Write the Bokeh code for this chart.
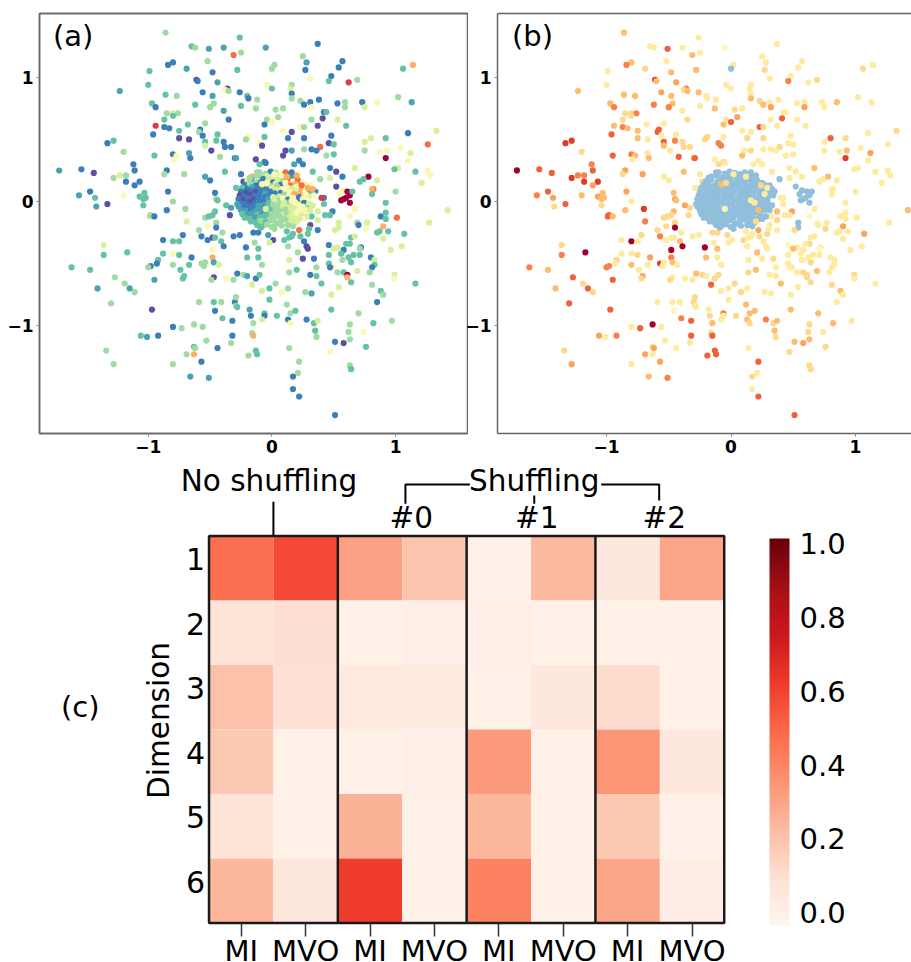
from math import pi
from bokeh.embed import file_html
from bokeh.resources import INLINE
from bokeh.layouts import column, row
from bokeh.plotting import figure
from bokeh.models import (ColumnDataSource, LinearColorMapper, ColorBar, FixedTicker, LinearAxis,
                          Label, Range1d, PrintfTickFormatter)
from bokeh.palettes import Reds256

FONT = "DejaVu Sans"

# ---- scatter data: the same points in (a) and (b), each with a colour class per panel
outer_x = [-.86,-.26,.37,-.65,-.62,-.51,-.39,-.05,-.31,-.25,
 .25,.28,.57,-.52,-.80,-.84,1.14,.54,1.06,.02,
 0,-.69,-.28,.27,-.99,-.48,.48,.31,.69,.46,
 -.61,-.60,-.44,.62,-1.0,-.04,.16,-.36,-.38,0,
 .15,-1.23,-.56,-.35,-.26,.16,-.86,-.77,-.48,-.20,
 -.19,-.12,.16,1.02,.23,.59,.38,.31,.26,.53,
 .73,.85,1.13,-.97,-.94,-.62,-.47,-.50,-.25,.59,
 .32,.75,-.13,.09,.03,-.39,-.85,-.80,-.76,-.80,
 .42,.44,.41,.05,-.04,-.06,0,.32,.53,-.35,
 -.87,-.68,-.54,-.94,.37,.60,.23,.26,-.87,-.83,
 -.58,-.75,-.59,.09,1.33,.16,-.96,-.44,-.56,.48,
 1.10,-.19,-.06,-.21,.13,.26,.92,.80,-.75,-.67,
 -.45,-1.28,-1.33,-.54,-.39,-.10,.46,.50,.75,1.26,
 -.54,-.38,-.33,-.08,.39,1.04,.93,.87,.75,1.12,
 -.49,-1.20,.11,.16,.26,.32,.36,-.80,-.67,.09,
 .50,-.77,-.95,-.42,-.79,-.66,-.30,-.29,-.13,.44,
 .92,1.10,-1.12,-.06,-.05,.18,.22,.25,-.10,.47,
 .67,1.02,.99,-1.72,-1.54,-1.44,-1.11,-.85,1.16,1.26,
 .33,.52,.78,1.28,-1.23,-1.18,-1.28,-.87,-.71,-.38,
 -.54,-.50,-1.18,-1.07,-1.11,.57,.85,.71,.74,.82,
 .81,1.21,.39,.47,.52,.57,.55,.61,.63,.58,
 .60,.56,.63,.65,.81,1.0,.92,1.42,-1.47,-1.56,
 -1.43,-1.20,-1.03,-.84,-.46,-1.02,-1.07,-1.04,-1.33,-1.42,
 -1.04,-.80,-.45,-.44,-.37,-.33,-.85,-.70,-.46,-.34,
 -.99,-.98,-.95,-.54,-.51,-.48,-.45,-.69,-.52,-.45,
 -.59,-.40,-.72,-.57,-.52,-.48,-.46,-.88,-.80,-.75,
 -.31,-.26,-.41,-.39,-1.36,-.21,-.11,-.14,-.48,-1.17,
 -.88,-1.36,-.80,-.75,-.65,-.48,-.92,-.93,-.98,-1.0,
 -1.62,-1.47,-.80,-.67,-.74,-.57,-.55,-.54,-.47,-.43,
 -.20,-.11,-.08,-.47,-.95,-.71,-.72,-.49,-.37,-.31,
 -.28,-.23,-.20,-.13,-.10,-.16,-1.27,-1.19,-1.15,-1.41,
 -1.11,-1.30,-.59,-.47,-.41,-.30,-.29,-.29,-.28,-.46,
 -.97,-.18,-.17,-.06,-.06,-.08,.04,-.40,-.32,-.15,
 .13,.15,.15,.19,.12,.28,.34,.37,.48,.70,
 .82,.97,.63,.74,.62,.63,.58,.51,.35,.36,
 -.80,-.73,-.63,-.56,-.16,-.15,-.32,-1.06,-1.01,-.92,
 -.53,-.33,-.44,-.63,-.62,-1.34,.76,-.13,-.12,-.19,
 .14,.47,-.69,-.63,-.57,-1.28,-.80,.22,.63,.64,
 .21,.17,-.66,-.51,.17,.22,.51,.67,.63,1.01,
 .49,.88,.92,.92,.77,.69,.70,1.27,.54,.54,
 .76,.90,.51,.85,.87,.94,1.07,.90,.64,.67,
 1.05,.96,.63,.60,.72,.71,.46,.58,.53,.50,
 .66,.56,.46,.57,.62,.64,.71,.80,.83,.83,
 .81,.46,.49,.47,.53,.58,.61,.61,.64,.69,
 .79,.99,.99,.81,.54,.40,1.16,.88,.90,.85,
 .48,.32,.27,.08,.13,-.02,.03,-.08,-.02,.14,
 .20,.36,.31,.36,.14,.25,.34,.21,.13,.28,
 .29,.26,.37,.29,.31,.22,.37,.32,.43,.47,
 .37,.42,.42,.35,.40,.17,.23,.30,.10,.14,
 -.15,-.11,-.03,.01,-.02,.12,.16,-.29,-.23,-.25]
outer_y = [1.36,1.32,1.27,1.25,1.24,1.23,1.24,1.24,1.18,1.20,
 1.17,1.12,1.13,1.13,1.12,1.10,1.10,1.08,1.07,1.10,
 1.07,1.07,1.06,1.06,1.05,1.04,1.01,.99,.98,.97,
 .98,.97,.96,.96,.94,.94,.94,.91,.90,.91,
 .91,.89,.88,.89,.88,.87,.86,.85,.85,.85,
 .83,.82,.83,.84,.81,.80,.82,.80,.78,.79,
 .80,.80,.80,.79,.76,.78,.79,.76,.77,.76,
 .76,.76,.75,.75,.74,.73,.71,.71,.71,.69,
 .72,.72,.67,.68,.66,.62,.64,.66,.66,.66,
 .66,.62,.63,.61,.61,.61,.60,.60,.60,.59,
 .58,.57,.56,.57,.57,.56,.54,.54,.53,.53,
 .55,.52,.52,.50,.51,.51,.51,.51,.51,.50,
 .49,.49,.47,.48,.48,.47,.47,.46,.48,.46,
 .45,.44,.44,.45,.44,.43,.41,.40,.41,.39,
 .41,.40,.41,.41,.42,.42,.41,.38,.39,.37,
 .38,.37,.37,.36,.34,.35,.35,.35,.34,.37,
 .35,.33,.30,.32,.31,.30,.33,.30,.30,.27,
 .27,.27,.26,.25,.26,.23,.25,.25,.24,.25,
 .24,.24,.20,.21,.21,.21,.19,.22,.22,.24,
 .20,.17,.16,.16,.13,.20,.17,.16,.18,.10,
 .10,.15,.18,.19,.12,.09,.06,.08,.05,.02,
 .03,.01,-.01,.08,.06,.08,-.01,-.07,.08,.05,
 .03,.05,.07,.08,.07,.03,.04,.02,-.02,-.04,
 -.03,0,.02,.01,-.03,-.05,-.07,-.06,-.08,-.11,
 -.12,-.11,-.12,-.13,-.12,-.11,-.17,-.16,-.20,-.21,
 -.23,-.25,-.27,-.28,-.31,-.29,-.29,-.31,-.32,-.32,
 -.28,-.27,-.32,-.36,-.35,-.37,-.38,-.33,-.39,-.41,
 -.42,-.43,-.42,-.43,-.45,-.45,-.47,-.50,-.52,-.53,
 -.53,-.55,-.51,-.51,-.55,-.50,-.52,-.49,-.49,-.51,
 -.45,-.45,-.51,-.61,-.63,-.60,-.62,-.63,-.62,-.63,
 -.58,-.59,-.60,-.62,-.59,-.67,-.61,-.66,-.70,-.70,
 -.73,-.82,-.81,-.81,-.81,-.81,-.77,-.84,-.85,-.88,
 -.87,-.87,-.92,-.90,-.92,-.95,-.92,-.94,-.96,-.98,
 -.95,-.98,-.90,-.88,-.83,-.95,-.98,-.96,-.87,-.90,
 -.98,-.96,-.99,-1.05,-1.05,-1.11,-1.14,-1.13,-1.04,-1.09,
 -1.01,-1.02,-.99,-1.01,-1.06,-1.08,-1.08,-1.08,-1.09,-1.08,
 -1.12,-1.14,-1.18,-1.17,-1.18,-1.20,-1.17,-1.20,-1.23,-1.24,
 -1.18,-1.21,-1.23,-1.23,-1.29,-1.31,-1.31,-1.29,-1.32,-1.35,
 -1.38,-1.41,-1.41,-1.42,-1.51,-1.57,-1.72,-.06,-.12,-.13,
 -.08,-.12,-.09,-.14,-.17,-.17,-.19,-.17,-.17,-.21,
 -.22,-.20,-.23,-.25,-.24,-.24,-.26,-.30,-.29,-.28,
 -.36,-.39,-.34,-.34,-.37,-.38,-.35,-.39,-.37,-.38,
 -.43,-.42,-.43,-.47,-.45,-.49,-.43,-.45,-.47,-.51,
 -.53,-.50,-.53,-.53,-.57,-.57,-.59,-.61,-.65,-.56,
 -.57,-.59,-.62,-.67,-.69,-.66,-.66,-.72,-.75,-.81,
 -.75,-.74,-.73,-.73,-.70,-.70,-.66,-.72,-.79,-.57,
 -.55,-.53,-.59,-.60,-.47,-.46,-.46,-.41,-.36,-.36,
 -.38,-.32,-.23,-.26,-.19,-.23,-.15,-.12,-.11,-.11,
 -.08,-.02,.03,.08,.03,-.26,-.28,-.22,-.31,-.29,
 -.25,-.25,-.27,-.31,-.33,-.24,-.28,.11,.16,.22]
outer_a = [4,3,1,3,4,2,2,2,9,4,
 4,2,1,4,1,1,8,1,3,4,
 4,2,3,1,3,1,1,7,4,3,
 0,1,2,10,3,6,4,0,6,3,
 5,2,1,4,1,1,3,4,2,3,
 1,4,4,4,4,4,1,1,1,1,
 1,6,2,3,1,3,4,4,3,4,
 6,5,4,4,4,2,4,5,4,3,
 1,3,0,4,4,1,7,4,5,1,
 3,3,4,10,0,3,6,4,1,1,
 1,3,4,6,5,0,1,3,1,1,
 1,7,3,4,1,1,3,5,0,0,
 3,3,1,3,1,6,0,3,5,9,
 5,1,1,0,9,6,7,6,4,5,
 0,4,0,2,4,1,1,1,2,0,
 3,7,3,4,6,1,1,2,0,4,
 11,6,1,1,1,2,1,1,3,1,
 5,5,3,2,1,0,1,1,3,6,
 3,0,11,6,5,4,4,4,4,3,
 2,1,1,1,1,1,5,3,3,9,
 8,5,4,5,0,6,6,11,11,11,
 11,11,11,3,3,4,3,5,1,2,
 3,6,3,1,1,3,3,3,0,2,
 3,4,4,3,3,2,1,4,3,0,
 5,4,1,4,3,3,4,5,7,1,
 4,4,1,1,1,0,3,1,3,3,
 1,1,3,1,5,1,3,4,6,3,
 3,3,6,3,1,8,3,1,1,4,
 3,3,4,3,3,4,4,4,2,5,
 3,3,4,0,2,3,3,4,6,4,
 1,4,2,1,3,5,4,4,2,2,
 4,4,4,3,4,1,4,4,3,1,
 0,2,1,3,1,5,3,3,1,4,
 1,6,4,3,4,1,3,5,3,4,
 3,4,4,7,4,4,0,1,3,4,
 1,4,4,4,4,8,1,3,2,1,
 4,4,1,3,4,4,3,3,3,4,
 4,6,4,8,1,4,4,4,4,3,
 4,1,2,2,1,1,1,7,7,9,
 1,1,3,3,5,4,1,5,5,5,
 7,8,5,3,3,3,3,5,3,5,
 5,5,3,3,1,4,1,1,5,5,
 3,3,3,4,3,3,3,1,5,3,
 1,3,7,1,4,3,11,8,3,5,
 4,5,6,4,5,3,3,3,4,1,
 5,2,4,6,4,3,4,5,3,4,
 3,4,1,3,5,0,1,4,4,0,
 0,1,1,3,0,9,5,3,3,3,
 5,3,1,1,10,3,3,3,3,3,
 1,1,2,0,5,3,3,3,0,1]
outer_b = [4,2,2,2,2,7,2,1,4,2,
 2,2,2,2,4,6,2,2,3,2,
 0,3,4,3,2,4,2,2,3,6,
 8,4,5,2,2,2,2,6,3,2,
 2,4,5,4,4,2,4,4,4,2,
 2,2,4,2,3,2,2,2,4,2,
 2,4,2,4,6,6,4,6,2,5,
 5,2,4,2,3,2,3,3,6,3,
 2,2,7,5,2,4,7,2,2,3,
 3,2,2,4,2,2,7,3,6,4,
 7,4,7,2,3,2,7,2,2,2,
 2,3,2,3,3,3,3,7,4,2,
 6,8,8,7,3,6,2,2,2,2,
 4,3,3,6,3,2,4,2,2,5,
 2,3,2,3,2,2,2,6,2,4,
 2,4,7,7,2,4,4,7,2,2,
 8,2,6,3,2,2,2,2,3,2,
 4,2,2,9,7,7,7,5,2,2,
 2,2,4,2,6,6,8,3,5,4,
 2,2,8,8,5,2,2,2,2,2,
 2,2,0,2,0,0,0,0,0,0,
 0,0,0,0,2,2,2,4,7,6,
 5,4,4,5,4,4,5,4,7,3,
 3,2,5,4,5,3,4,8,4,3,
 7,7,4,3,3,3,3,6,3,9,
 3,2,3,6,2,2,2,2,9,2,
 2,2,4,9,3,9,4,2,9,9,
 2,6,2,3,5,6,3,2,6,6,
 6,4,4,2,2,8,2,2,4,2,
 4,2,2,2,7,5,3,3,2,2,
 4,3,2,3,3,7,7,3,7,4,
 3,7,2,2,2,3,3,2,2,1,
 7,2,3,6,2,2,3,6,7,4,
 4,3,4,4,4,6,3,4,4,4,
 4,2,3,2,3,4,5,4,4,3,
 2,7,9,2,3,7,7,5,2,6,
 2,2,2,3,5,3,3,7,7,7,
 2,3,5,2,5,5,2,7,3,3,
 2,3,4,6,2,7,7,2,1,2,
 5,2,2,2,2,1,2,2,0,0,
 3,5,3,2,2,2,5,2,2,2,
 2,2,3,2,2,1,1,2,2,4,
 2,2,2,2,2,3,2,2,2,2,
 2,2,2,2,2,3,3,3,3,4,
 2,3,2,3,2,4,2,4,2,2,
 2,2,2,3,2,2,3,2,2,3,
 4,2,2,2,2,2,3,4,2,2,
 2,2,2,3,2,5,3,2,2,2,
 4,2,2,0,2,2,3,2,3,2,
 3,3,3,2,2,2,2,2,3,2]

# the dense core: blue (one class) in panel (b)
core_x = [-.10,-.05,-.01,.03,.07,.11,.15,
 -.16,-.12,-.08,-.04,0,.04,.08,.12,.16,.20,
 -.20,-.16,-.11,-.07,-.03,.01,.05,.09,.13,.17,.21,.25,
 -.22,-.18,-.13,-.09,-.05,-.01,.03,.07,.11,.15,.19,.23,.27,
 -.24,-.20,-.16,-.12,-.08,-.04,0,.04,.08,.12,.16,.20,.24,.28,
 -.25,-.21,-.17,-.13,-.09,-.05,-.01,.03,.07,.11,.15,.19,.23,.27,.30,
 -.26,-.22,-.18,-.14,-.10,-.06,-.02,.02,.06,.10,.14,.18,.22,.26,.30,
 -.27,-.23,-.19,-.15,-.11,-.07,-.03,.01,.05,.09,.13,.17,.21,.25,.29,
 -.26,-.22,-.18,-.14,-.10,-.06,-.02,.02,.06,.10,.14,.18,.22,.26,.30,
 -.27,-.23,-.19,-.15,-.11,-.07,-.03,.01,.05,.09,.13,.17,.21,.25,.29,
 -.25,-.21,-.17,-.13,-.09,-.05,-.01,.03,.07,.11,.15,.19,.23,.27,
 -.24,-.20,-.16,-.12,-.08,-.04,0,.04,.08,.12,.16,.20,.24,
 -.22,-.18,-.14,-.10,-.06,-.02,.02,.06,.10,.14,.18,
 -.17,-.13,-.09,-.05,-.01,.03,.07,.11,.15,
 -.12,-.08,-.04,0,.04,.08,.13,
 .31,.33,.34,.33,.31,.28,.25,.22,.19,.17,-.18,-.12,-.28,-.09,.02,.16,.20]
core_y = [.235,.225,.24,.23,.22,.235,.22,
 .20,.21,.19,.205,.195,.21,.20,.19,.205,.185,
 .165,.175,.16,.18,.17,.155,.175,.165,.18,.16,.17,.15,
 .135,.145,.13,.15,.14,.125,.145,.135,.15,.13,.14,.12,.135,
 .11,.10,.115,.105,.12,.095,.11,.125,.10,.115,.105,.12,.095,.11,
 .08,.07,.085,.075,.09,.065,.08,.095,.07,.085,.075,.09,.065,.08,.07,
 .05,.04,.055,.045,.06,.035,.05,.065,.04,.055,.045,.06,.035,.05,.04,
 .02,.01,.025,.015,.03,.005,.02,.035,.01,.025,.015,.03,.005,.02,.01,
 -.01,-.02,-.005,-.015,0,-.025,-.01,.005,-.02,-.005,-.015,0,-.025,-.01,-.02,
 -.04,-.05,-.035,-.045,-.03,-.055,-.04,-.025,-.05,-.035,-.045,-.03,-.055,-.04,-.05,
 -.07,-.08,-.065,-.075,-.06,-.085,-.07,-.055,-.08,-.065,-.075,-.06,-.085,-.07,
 -.10,-.11,-.095,-.105,-.09,-.115,-.10,-.085,-.11,-.095,-.105,-.09,-.115,
 -.13,-.14,-.125,-.135,-.12,-.145,-.13,-.115,-.14,-.125,-.135,
 -.16,-.17,-.155,-.165,-.15,-.175,-.16,-.145,-.17,
 -.19,-.20,-.185,-.205,-.18,-.195,-.19,
 .13,.10,.05,-.03,-.07,-.12,-.14,-.14,-.17,-.20,.19,.235,-.02,-.21,-.22,.235,.21]
core_a = [4,4,1,4,7,9,1,
 8,4,4,5,5,5,7,8,2,9,
 5,3,4,1,5,1,5,4,9,7,9,7,
 1,4,1,1,5,4,5,1,6,9,8,8,7,
 3,1,2,1,1,1,5,4,6,7,5,7,8,7,
 1,0,1,0,1,2,1,5,1,6,7,5,8,7,3,
 0,1,0,1,1,1,1,1,5,4,6,8,1,8,5,
 1,0,1,0,1,1,2,5,4,6,1,7,1,7,6,
 1,1,0,1,1,2,3,5,4,5,4,6,7,1,5,
 2,1,1,1,2,1,3,4,4,5,5,5,6,6,4,
 2,2,1,2,2,3,3,4,4,4,5,5,5,6,
 3,2,2,3,2,3,4,4,5,4,5,6,5,
 3,3,2,3,3,4,4,4,4,5,5,
 3,3,4,3,4,4,4,4,5,
 3,3,4,4,4,4,4,
 6,8,7,5,5,5,6,5,5,4,4,4,2,3,4,1,8]

# points lying on top of the core
fleck_x = [-.05,-.08,-.04,.16,.19,.29,.22,.20,.24,.27,.12,.02]
fleck_y = [-.06,.14,.15,.01,-.01,.11,-.07,-.16,.13,.06,.20,.22]
fleck_a = [5,7,6,6,6,8,6,5,9,7,8,6]
fleck_b = [1,4,3,2,2,2,4,3,3,2,2,2]

core_class_b = 0

palette_a = ["#5e4fa2", "#3b7fba", "#4aa3b3", "#66c2a5", "#a0dba3", "#d8f09c",
             "#fbf8b4", "#fee08b", "#fdae61", "#f46d43", "#d53e4f", "#9e0142"]
palette_b = ["#91bfdb", "#fff7b5", "#feeb9e", "#fed98b", "#fdbd6e", "#fda25b",
             "#f98049", "#f0603a", "#de3c2c", "#a50026"]

scatter_ticks = [-1, 0, 1]
scatter_tick_labels = ["\u22121", "0", "1"]

# ---- heat map data
heat_rows = ["1", "2", "3", "4", "5", "6"]
heat_cols = ["MI", "MVO", "MI", "MVO", "MI", "MVO", "MI", "MVO"]
heat_values = [
    [.47, .58, .31, .195, 0.0, .23, .05, .30],
    [.07, .10, 0.0, .01, .01, 0.0, 0.0, 0.0],
    [.21, .09, .04, .04, 0.0, .05, .11, 0.0],
    [.18, 0.0, 0.0, .01, .33, 0.0, .35, .05],
    [.07, 0.0, .26, 0.0, .24, 0.0, .18, 0.0],
    [.24, .05, .62, 0.0, .41, 0.0, .30, .02],
]
bar_ticks = [0.0, 0.2, 0.4, 0.6, 0.8, 1.0]
group_edges = [2, 4, 6]

header_texts = ["No shuffling", "Shuffling", "#0", "#1", "#2"]
header_x = [0.93, 5.05, 3.14, 5.09, 7.07]
header_y = [-0.85, -0.85, -0.285, -0.285, -0.285]
bracket_x = [[1.0, 1.0], [3.05, 3.05, 4.05], [5.05, 5.05], [6.09, 6.99, 6.99]]
bracket_y = [[-0.53, 0.0], [-0.50, -0.80, -0.80], [-0.63, -0.50], [-0.80, -0.80, -0.55]]


def scatter_panel(width, border_left, xr, panel_label, colors, palette, label_x):
    p = figure(width=width, height=462, output_backend="svg", toolbar_location=None,
               x_range=Range1d(*xr), y_range=Range1d(-1.868, 1.514),
               min_border_left=border_left, min_border_right=0,
               min_border_top=13, min_border_bottom=29,
               x_axis_location=None, y_axis_location=None)
    p.grid.visible = False
    p.outline_line_color = None
    p.border_fill_color = None
    p.background_fill_color = None
    xs = outer_x + core_x + fleck_x
    ys = outer_y + core_y + fleck_y
    src = ColumnDataSource(dict(x=xs, y=ys, c=colors))
    mapper = LinearColorMapper(palette=palette, low=0, high=len(palette))
    p.scatter("x", "y", source=src, size=6.2, line_color=None,
              fill_color={"field": "c", "transform": mapper})
    for side in ("left", "below"):
        ax = LinearAxis(ticker=FixedTicker(ticks=scatter_ticks),
                        major_label_overrides=dict(zip(scatter_ticks, scatter_tick_labels)),
                        major_label_text_font=FONT, major_label_text_font_size="17px",
                        major_label_text_font_style="bold", major_label_text_color="black",
                        major_label_standoff=3, major_tick_in=0, major_tick_out=3,
                        minor_tick_line_color=None, major_tick_line_color="#888888",
                        axis_line_color="#666666", axis_line_width=1.5)
        p.add_layout(ax, side)
    top_spine = LinearAxis(ticker=FixedTicker(ticks=[]), major_tick_line_color=None,
                           major_tick_in=0, major_tick_out=0, minor_tick_line_color=None,
                           major_label_standoff=0,
                           axis_line_color="#666666", axis_line_width=1.5)
    p.add_layout(top_spine, "above")
    p.add_layout(Label(x=label_x, y=1.333, text=panel_label, text_font=FONT,
                       text_font_size="29px", text_color="black", text_baseline="alphabetic"))
    return p


color_a = outer_a + core_a + fleck_a
color_b = outer_b + [core_class_b] * len(core_x) + fleck_b
assert len(outer_x) == len(outer_y) == len(outer_a) == len(outer_b), (len(outer_x), len(outer_y), len(outer_a), len(outer_b))
assert len(core_x) == len(core_y) == len(core_a), (len(core_x), len(core_y), len(core_a))

pa = scatter_panel(468, 39, (-1.879, 1.581), "(a)", color_a, palette_a, -1.77)
pa.outline_line_color = "#666666"
pa.outline_line_width = 1.5
pa.min_border_right = 1
pb = scatter_panel(451, 37, (-1.876, 1.450), "(b)", color_b, palette_b, -1.76)
pb.margin = (0, 0, 0, -8)

# ---- heat map: four MI/MVO pairs; the frame fills the whole figure so the outside texts are kept
reds = list(Reds256)
if reds[0].lower() == "#67000d":
    reds = reds[::-1]
mapper = LinearColorMapper(palette=reds, low=-0.035, high=1.014)

pc = figure(width=911, height=500, output_backend="svg", toolbar_location=None,
            x_range=Range1d(-3.238, 10.908), y_range=Range1d(6.612, -1.14),
            min_border_left=0, min_border_right=0, min_border_top=0, min_border_bottom=0,
            x_axis_location=None, y_axis_location=None)
pc.grid.visible = False
pc.outline_line_color = None

left, right, top, bottom, val = [], [], [], [], []
for r, vals in enumerate(heat_values):
    for c, v in enumerate(vals):
        left.append(c)
        right.append(c + 1)
        top.append(r)
        bottom.append(r + 1)
        val.append(v)
src = ColumnDataSource(dict(left=left, right=right, top=top, bottom=bottom, v=val))
pc.quad(left="left", right="right", top="top", bottom="bottom", source=src,
        fill_color={"field": "v", "transform": mapper}, line_color=None)
pc.quad(left=[0], right=[len(heat_cols)], top=[0], bottom=[len(heat_rows)],
        fill_color=None, line_color="#1a1a1a", line_width=2.5)
pc.segment(x0=group_edges, x1=group_edges, y0=[0] * 3, y1=[len(heat_rows)] * 3,
           line_color="#1a1a1a", line_width=2.5)
pc.multi_line(xs=bracket_x, ys=bracket_y, line_color="black", line_width=2)

row_ticks = [i + 0.36 for i in range(len(heat_rows))]
y_ax = LinearAxis(ticker=FixedTicker(ticks=row_ticks),
                  major_label_overrides=dict(zip(row_ticks, heat_rows)),
                  major_label_text_font=FONT, major_label_text_font_size="30px",
                  major_label_text_color="black", major_label_standoff=4,
                  major_tick_in=0, major_tick_out=0, fixed_location=0,
                  major_tick_line_color=None, minor_tick_line_color=None, axis_line_color=None,
                  major_label_orientation="horizontal")
pc.add_layout(y_ax, "left")
col_ticks = [i + 0.5 for i in range(len(heat_cols))]
x_ax = LinearAxis(ticker=FixedTicker(ticks=col_ticks),
                  major_label_overrides=dict(zip(col_ticks, heat_cols)),
                  major_label_text_font=FONT, major_label_text_font_size="29px",
                  major_label_text_color="black", major_label_standoff=-2,
                  major_tick_in=0, major_tick_out=13, major_tick_line_color="#333333",
                  major_tick_line_width=1.5, minor_tick_line_color=None, axis_line_color=None,
                  fixed_location=len(heat_rows))
pc.add_layout(x_ax, "below")

for t, x, y in zip(header_texts, header_x, header_y):
    pc.add_layout(Label(x=x, y=y, text=t, text_font=FONT, text_font_size="29.5px",
                        text_color="black", text_align="center", text_baseline="alphabetic"))
pc.add_layout(Label(x=-2.0, y=2.645, text="(c)", text_font=FONT, text_font_size="29px",
                    text_color="black", text_align="center", text_baseline="alphabetic"))
pc.add_layout(Label(x=-0.784, y=2.86, text="Dimension", text_font=FONT, text_font_size="29.5px",
                    text_color="black", text_align="center", text_baseline="middle", angle=pi / 2))

cb = ColorBar(color_mapper=mapper, ticker=FixedTicker(ticks=bar_ticks),
              formatter=PrintfTickFormatter(format="%.1f"), width=20, height=387,
              location=(769, 37), padding=0, margin=0, major_label_text_font=FONT,
              major_label_text_font_size="29px", major_label_text_color="black",
              label_standoff=10, major_tick_line_color=None, minor_tick_line_color=None,
              bar_line_color=None, background_fill_color=None, border_line_color=None)
pc.add_layout(cb)

root = column(row(pa, pb, spacing=0), pc, spacing=0)
root.styles = {"position": "absolute", "left": "0px", "top": "0px"}

open("out.html", "w").write(file_html(root, INLINE))
